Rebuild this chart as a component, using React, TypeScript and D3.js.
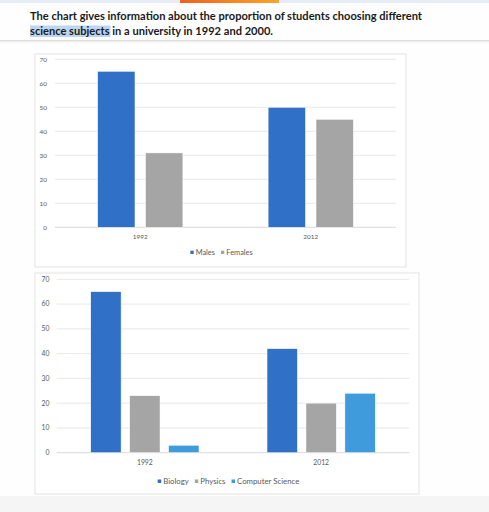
import { useEffect, useRef } from 'react'
import * as d3 from 'd3'

const years = ['1992', '2012']

const genderSeries = ['Males', 'Females']
const males = [65, 50]
const females = [31, 45]

const subjectSeries = ['Biology', 'Physics', 'Computer Science']
const biology = [65, 42]
const physics = [23, 20]
const computerScience = [3, 24]

const yTicks = [0, 10, 20, 30, 40, 50, 60, 70]

const titleLine1 = 'The chart gives information about the proportion of students choosing different'
const titleHighlight = 'science subjects'
const titleRest = ' in a university in 1992 and 2000.'

const BLUE = '#3070c6'
const GRAY = '#a5a5a5'
const LIGHT_BLUE = '#3f9bdb'

interface ChartSpec {
  series: string[]
  values: number[][]
  colors: string[]
  frame: [number, number, number, number] // x, y, w, h
  plot: { left: number; right: number; top: number; bottom: number }
  groupPad: number
  barPad: number
  tickX: number
  tickSize: number
  yearY: number
  legendY: number
  legendCx: number
  legendSize: number
}

function drawChart(root: d3.Selection<SVGGElement, unknown, null, undefined>, spec: ChartSpec) {
  const [fx, fy, fw, fh] = spec.frame
  const g = root.append('g')

  g.append('rect')
    .attr('x', fx).attr('y', fy).attr('width', fw).attr('height', fh)
    .attr('fill', '#ffffff').attr('stroke', '#dcdcdc').attr('stroke-width', 0.8)

  const y = d3.scaleLinear().domain([0, 70]).range([spec.plot.bottom, spec.plot.top])
  const x0 = d3.scaleBand<string>()
    .domain(years)
    .range([spec.plot.left, spec.plot.right])
    .paddingInner(spec.groupPad)
    .paddingOuter(spec.groupPad / 2)
  const x1 = d3.scaleBand<string>()
    .domain(spec.series)
    .range([0, x0.bandwidth()])
    .paddingInner(spec.barPad)

  // gridlines
  g.append('g')
    .selectAll('line')
    .data(yTicks)
    .join('line')
    .attr('x1', spec.plot.left).attr('x2', spec.plot.right)
    .attr('y1', (d) => y(d)).attr('y2', (d) => y(d))
    .attr('stroke', (d) => (d === 0 ? '#d0d0d0' : '#e2e2e2'))
    .attr('stroke-width', 0.8)

  g.append('g')
    .selectAll('text')
    .data(yTicks)
    .join('text')
    .attr('x', spec.tickX)
    .attr('y', (d) => y(d))
    .attr('dy', '0.35em')
    .attr('text-anchor', 'end')
    .attr('font-size', spec.tickSize)
    .attr('fill', '#595959')
    .text((d) => d)

  // bars
  years.forEach((year, yi) => {
    g.append('g')
      .attr('transform', `translate(${x0(year)},0)`)
      .selectAll('rect')
      .data(spec.series.map((s, si) => ({ s, si, v: spec.values[si][yi] })))
      .join('rect')
      .attr('x', (d) => x1(d.s)!)
      .attr('y', (d) => y(d.v))
      .attr('width', x1.bandwidth())
      .attr('height', (d) => y(0) - y(d.v))
      .attr('fill', (d) => spec.colors[d.si])
      .attr('stroke', '#ffffff')
      .attr('stroke-width', 0.5)
  })

  g.append('g')
    .selectAll('text')
    .data(years)
    .join('text')
    .attr('x', (d) => x0(d)! + x0.bandwidth() / 2)
    .attr('y', spec.yearY)
    .attr('text-anchor', 'middle')
    .attr('font-size', spec.tickSize)
    .attr('fill', '#595959')
    .text((d) => d)

  // legend, centred under the plot
  const legend = g.append('g')
  const box = spec.legendSize * 0.45
  let cursor = 0
  spec.series.forEach((s, i) => {
    const item = legend.append('g').attr('transform', `translate(${cursor},0)`)
    item.append('rect')
      .attr('x', 0).attr('y', -box - 1)
      .attr('width', box).attr('height', box)
      .attr('fill', spec.colors[i])
    const t = item.append('text')
      .attr('x', box + 2)
      .attr('y', 0)
      .attr('font-size', spec.legendSize)
      .attr('fill', '#595959')
      .text(s)
    const w = (t.node() as SVGTextElement).getComputedTextLength()
    cursor += box + 2 + w + 6
  })
  const total = cursor - 6
  legend.attr('transform', `translate(${spec.legendCx - total / 2},${spec.legendY})`)
}

export default function App() {
  const svgRef = useRef<SVGSVGElement>(null)

  useEffect(() => {
    if (!svgRef.current) return
    const svg = d3.select(svgRef.current)
    svg.selectAll('*').remove()

    const defs = svg.append('defs')
    const shade = defs.append('linearGradient').attr('id', 'shade').attr('x1', 0).attr('x2', 0).attr('y1', 0).attr('y2', 1)
    shade.append('stop').attr('offset', 0).attr('stop-color', '#d4d4d4')
    shade.append('stop').attr('offset', 1).attr('stop-color', '#ffffff').attr('stop-opacity', 0)
    const orange = defs.append('linearGradient').attr('id', 'orange')
    orange.append('stop').attr('offset', 0).attr('stop-color', '#f0621e')
    orange.append('stop').attr('offset', 1).attr('stop-color', '#f7a52a')

    const root = svg.append('g').attr('font-family', 'Lato, "Open Sans", sans-serif')

    // page backgrounds
    root.append('rect').attr('width', 489).attr('height', 512).attr('fill', '#fefefe')
    root.append('rect').attr('y', 0).attr('width', 489).attr('height', 3).attr('fill', '#e8ecf6')
    root.append('rect').attr('x', 180).attr('y', 0).attr('width', 99).attr('height', 3).attr('fill', 'url(#orange)')
    root.append('rect').attr('y', 40).attr('width', 489).attr('height', 4).attr('fill', 'url(#shade)')
    root.append('rect').attr('y', 496).attr('width', 489).attr('height', 16).attr('fill', '#f5f5f5')

    // title
    root.append('rect')
      .attr('x', 30).attr('y', 25.5).attr('width', 80.5).attr('height', 11.5)
      .attr('fill', '#bcd6f2')
    root.append('text')
      .attr('x', 30).attr('y', 19.5)
      .attr('font-size', 11.1).attr('font-weight', 700).attr('fill', '#1a1a1a')
      .text(titleLine1)
    const line2 = root.append('text')
      .attr('x', 30).attr('y', 34.5)
      .attr('font-size', 11.1).attr('font-weight', 700).attr('fill', '#1a1a1a')
    line2.append('tspan').text(titleHighlight)
    line2.append('tspan').text(titleRest)

    drawChart(root, {
      series: genderSeries,
      values: [males, females],
      colors: [BLUE, GRAY],
      frame: [35, 54, 371, 213],
      plot: { left: 55, right: 396, top: 59.3, bottom: 227.3 },
      groupPad: 0.5,
      barPad: 0.22,
      tickX: 47,
      tickSize: 6.4,
      yearY: 239,
      legendY: 255,
      legendCx: 221.5,
      legendSize: 7.4,
    })

    drawChart(root, {
      series: subjectSeries,
      values: [biology, physics, computerScience],
      colors: [BLUE, GRAY, LIGHT_BLUE],
      frame: [35, 273, 384, 221],
      plot: { left: 56.7, right: 409.3, top: 279.3, bottom: 452.7 },
      groupPad: 0.386,
      barPad: 0.22,
      tickX: 49.5,
      tickSize: 6.8,
      yearY: 465,
      legendY: 484,
      legendCx: 228.5,
      legendSize: 7.8,
    })
  }, [])

  return (
    <svg
      ref={svgRef}
      width={489}
      height={512}
      style={{ position: 'absolute', left: 0, top: 0, display: 'block' }}
    />
  )
}
